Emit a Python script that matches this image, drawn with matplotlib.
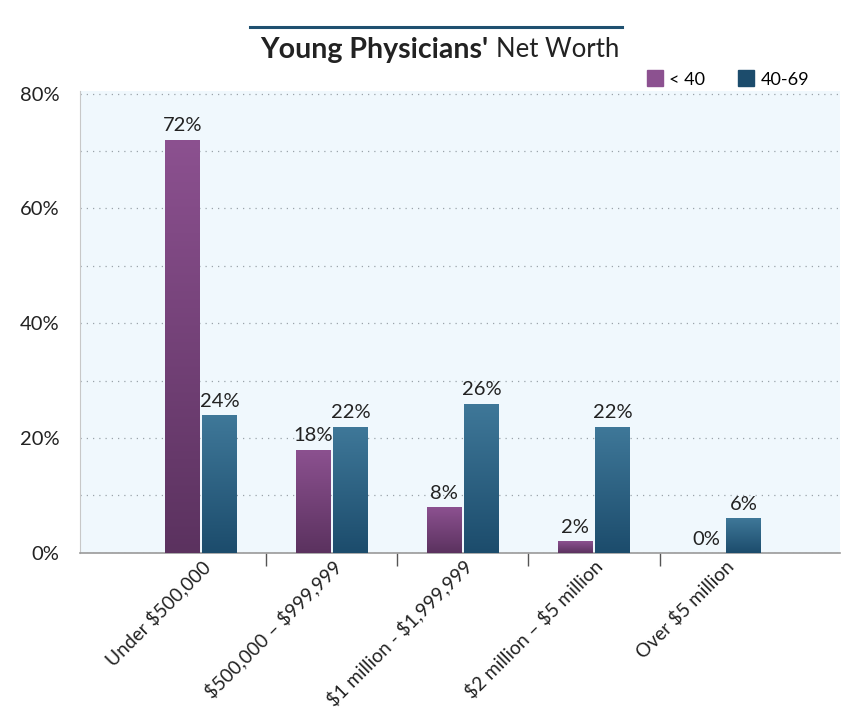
import numpy as np
import matplotlib
matplotlib.use("Agg")
from matplotlib import pyplot as plt
from matplotlib.lines import Line2D
from matplotlib.colors import LinearSegmentedColormap

plt.rcParams["font.family"] = ["Lato", "DejaVu Sans"]
plt.rcParams["text.parse_math"] = False

categories = ["Under $500,000", "$500,000 – $999,999", "$1 million - $1,999,999",
              "$2 million – $5 million", "Over $5 million"]
under_40 = [72, 18, 8, 2, 0]
age_40_69 = [24, 22, 26, 22, 6]
series_names = ["< 40", "40-69"]

# top / bottom colours of the bar gradients
purple = ("#8c5190", "#5b325f")
blue = ("#3f7899", "#1c4c6c")

fig = plt.figure(figsize=(8.62, 7.19), dpi=100)
ax = fig.add_axes([0.093, 0.231, 0.882, 0.642])
ax.set_facecolor("#f0f8fd")

x = np.arange(len(categories))
w = 0.265
off = 0.142


def gradient_bars(xs, vals, cols):
    bars = ax.bar(xs, vals, width=w, color="none", edgecolor="none", zorder=3)
    cmap = LinearSegmentedColormap.from_list("g", [cols[1], cols[0]])
    grad = np.linspace(0, 1, 256).reshape(-1, 1)
    for b, v in zip(bars, vals):
        if v <= 0:
            continue
        im = ax.imshow(grad, cmap=cmap, aspect="auto", origin="lower",
                       extent=[b.get_x(), b.get_x() + w, 0, v], zorder=3)
        im.set_clip_path(b)
    return bars


gradient_bars(x - off, under_40, purple)
gradient_bars(x + off, age_40_69, blue)

for xi, v in zip(x - off, under_40):
    ax.text(xi, v + 0.9, f"{v}%", ha="center", va="bottom", fontsize=14.5, color="#222222", zorder=4)
for xi, v in zip(x + off, age_40_69):
    ax.text(xi, v + 0.9, f"{v}%", ha="center", va="bottom", fontsize=14.5, color="#222222", zorder=4)

ax.set_xlim(-0.92, 4.88)
ax.set_ylim(0, 80.4)

ax.set_yticks(np.arange(0, 81, 20))
ax.set_yticklabels([f"{v}%" for v in range(0, 81, 20)], fontsize=14.5, color="#222222")
ax.set_yticks(np.arange(0, 81, 10), minor=True)
ax.tick_params(axis="y", which="both", length=0, pad=15)
ax.grid(axis="y", which="both", linestyle=(0, (1, 4)), color="#9aa3aa", linewidth=0.9, zorder=1)

ax.set_xticks(x)
ax.set_xticklabels(categories, rotation=45, ha="right", rotation_mode="anchor",
                   fontsize=13.8, color="#222222")
ax.tick_params(axis="x", which="major", length=0, pad=3)
ax.set_xticks(x[:-1] + 0.5, minor=True)
ax.tick_params(axis="x", which="minor", length=9, width=1, color="#555555")

for s in ["top", "right"]:
    ax.spines[s].set_visible(False)
ax.spines["left"].set_color("#c8c8c8")
ax.spines["bottom"].set_color("#9a9a9a")
ax.spines["bottom"].set_linewidth(1.2)

# title with rule above
fig.add_artist(Line2D([0.29, 0.722], [0.962, 0.962], color="#1f5070", linewidth=2.2))
fig.text(0.567, 0.931, "Young Physicians'", ha="right", va="center",
         fontsize=20.5, fontweight="bold", color="#222222")
fig.text(0.575, 0.931, "Net Worth", ha="left", va="center",
         fontsize=18.5, color="#222222")

handles = [Line2D([], [], marker="s", linestyle="none", markersize=12,
                  markerfacecolor=purple[0], markeredgecolor=purple[0]),
           Line2D([], [], marker="s", linestyle="none", markersize=12,
                  markerfacecolor=blue[1], markeredgecolor=blue[1])]
fig.legend(handles, series_names, loc="center right", bbox_to_anchor=(0.958, 0.889),
           ncol=2, frameon=False, fontsize=13, handletextpad=0.3, columnspacing=1.8,
           handlelength=1.0)

fig.savefig("out.png", dpi=100)
